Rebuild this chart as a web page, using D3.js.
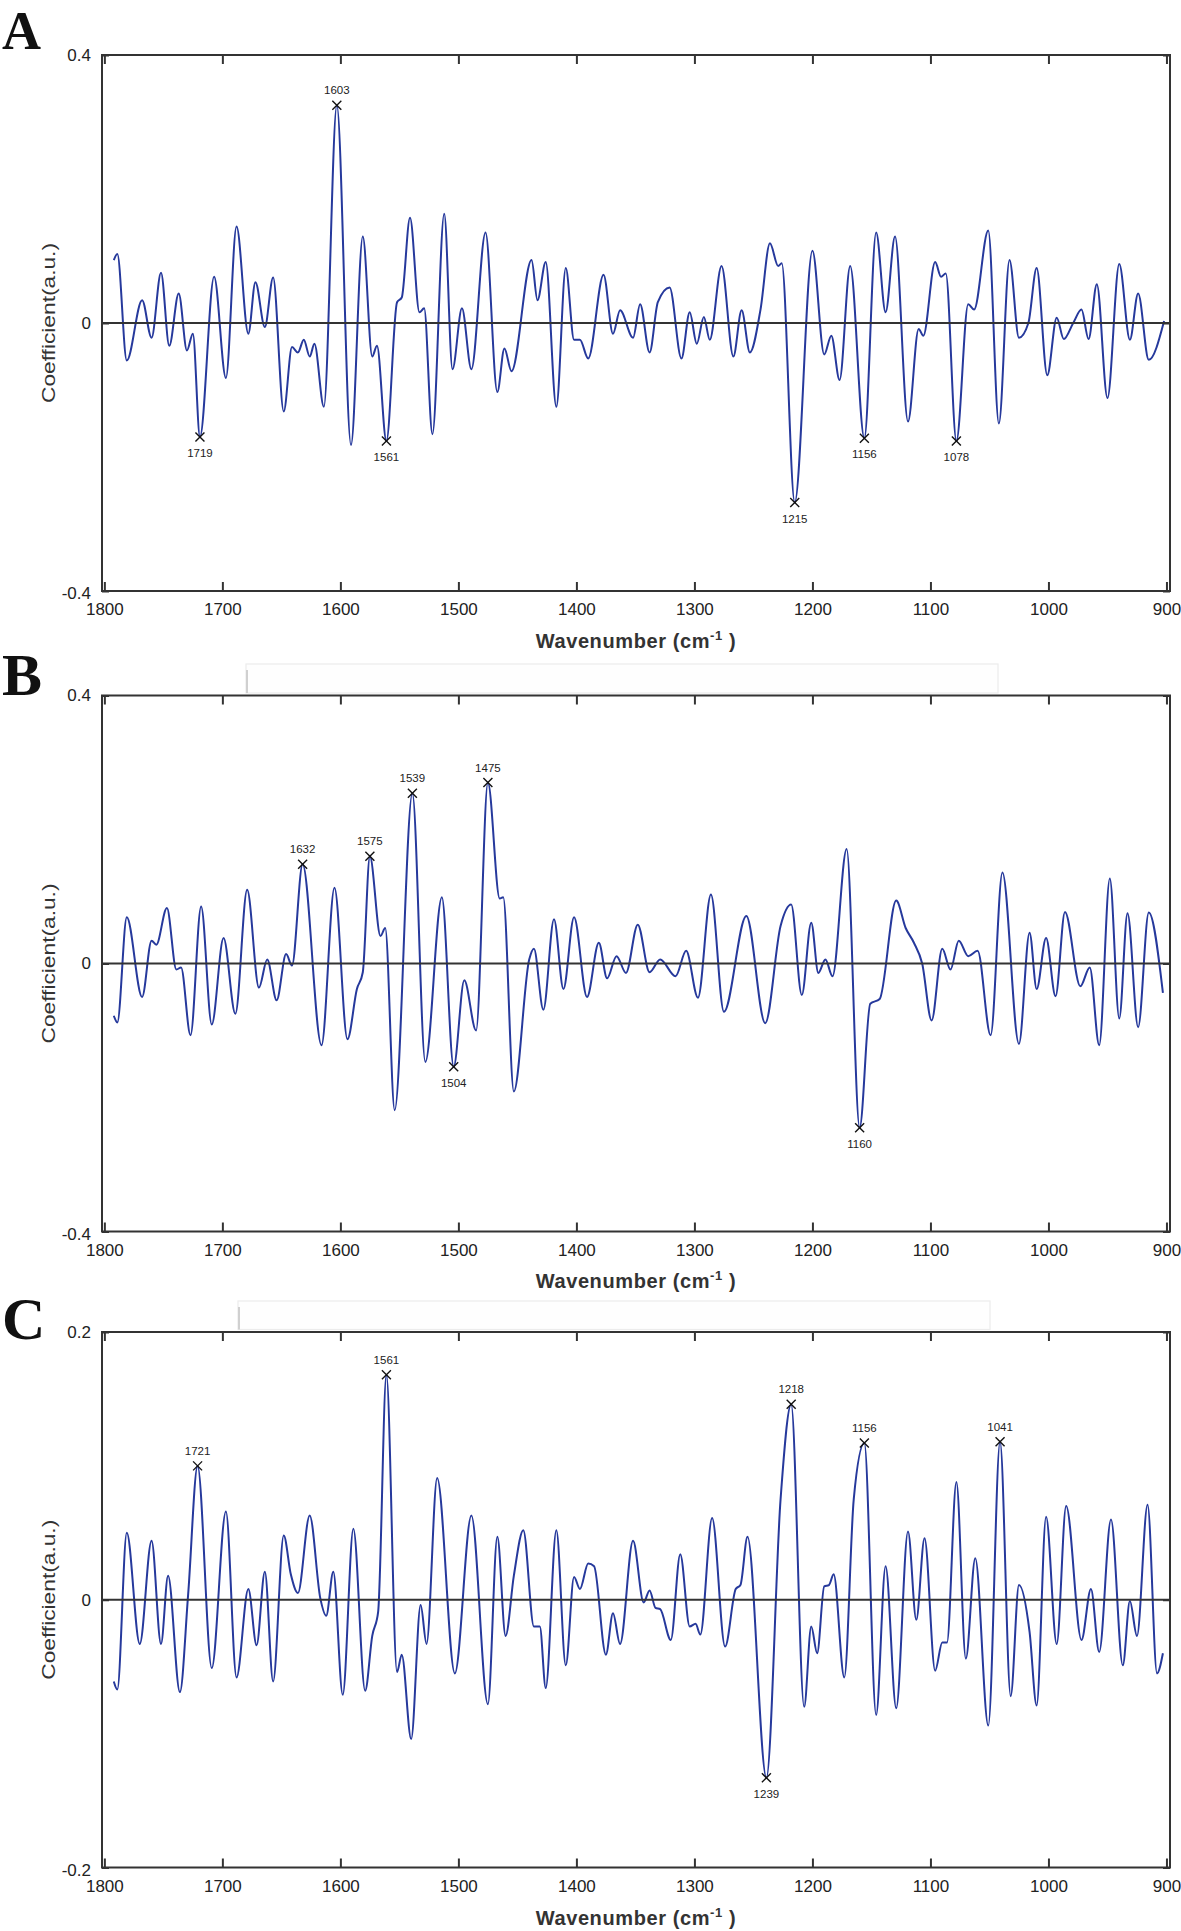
<!DOCTYPE html>
<html><head><meta charset="utf-8">
<script src="https://cdn.jsdelivr.net/npm/d3@7"></script>
<style>body{margin:0;background:#fff}svg{display:block}</style>
</head><body>
<svg id="chart" width="1181" height="1931"></svg>
<script>
// ---------- data ----------
const xTicks = [1800,1700,1600,1500,1400,1300,1200,1100,1000,900];
const yTicksAB = [-0.4, 0, 0.4];
const yTicksC = [-0.2, 0, 0.2];
const panelLetters = ["A","B","C"];
const xAxisTitle = "Wavenumber (cm";
const yAxisTitle = "Coefficient(a.u.)";

const wavenumbersA = [1792,1789,1781,1768,1760,1752,1745,1737,1730,1725,1719,1707,1697,1688,1678,1672,1664,1657,1648,1641,1636,1631,1626,1622,1614,1603,1591,1581,1573,1569,1561,1552,1548,1541,1533,1529,1522,1512,1505,1497,1489,1477,1467,1461,1455,1438,1433,1426,1417,1409,1402,1397,1390,1377,1369,1363,1352,1346,1338,1331,1321,1311,1304,1298,1292,1287,1277,1267,1260,1253,1244,1236,1229,1226,1215,1200,1190,1184,1177,1168,1156,1146,1138,1130,1119,1110,1106,1096,1091,1087,1078,1068,1063,1051,1042,1033,1025,1017,1010,1001,993,987,979,972,966,959,950,940,931,924,915,902];
const coefficientsA = [0.094,0.103,-0.056,0.034,-0.022,0.075,-0.034,0.044,-0.041,-0.016,-0.170,0.069,-0.082,0.144,-0.016,0.061,-0.006,0.068,-0.132,-0.036,-0.044,-0.025,-0.050,-0.031,-0.125,0.325,-0.182,0.129,-0.050,-0.034,-0.176,0.031,0.038,0.157,0.016,0.022,-0.166,0.163,-0.069,0.022,-0.069,0.135,-0.103,-0.038,-0.072,0.094,0.034,0.091,-0.125,0.082,-0.025,-0.025,-0.053,0.072,-0.016,0.019,-0.022,0.028,-0.044,0.031,0.053,-0.053,0.016,-0.031,0.009,-0.025,0.085,-0.050,0.019,-0.044,0.020,0.119,0.085,0.089,-0.268,0.108,-0.047,-0.019,-0.085,0.085,-0.172,0.135,0.016,0.129,-0.147,-0.009,-0.019,0.091,0.069,0.074,-0.176,0.028,0.020,0.138,-0.150,0.094,-0.022,0.000,0.082,-0.078,0.008,-0.024,0.000,0.020,-0.024,0.058,-0.112,0.088,-0.025,0.044,-0.055,0.003];
const peaksA = [1719,1603,1561,1215,1156,1078];

const wavenumbersB = [1792,1789,1781,1768,1760,1756,1747,1739,1735,1727,1718,1709,1699,1689,1679,1669,1662,1654,1646,1641,1632,1616,1605,1594,1586,1581,1575,1566,1562,1554,1539,1528,1514,1504,1495,1485,1475,1465,1462,1453,1440,1436,1428,1419,1411,1402,1391,1381,1374,1366,1358,1348,1338,1329,1316,1307,1297,1286,1275,1256,1240,1227,1218,1209,1201,1195,1189,1183,1171,1160,1151,1143,1129,1121,1114,1107,1099,1090,1083,1076,1068,1060,1049,1039,1025,1016,1010,1002,994,986,973,965,957,948,940,933,924,915,903];
const coefficientsB = [-0.078,-0.088,0.069,-0.050,0.034,0.028,0.083,-0.009,-0.006,-0.107,0.085,-0.091,0.038,-0.075,0.110,-0.036,0.006,-0.055,0.014,-0.003,0.148,-0.122,0.113,-0.113,-0.038,-0.013,0.160,0.041,0.053,-0.219,0.254,-0.147,0.099,-0.154,-0.025,-0.100,0.270,0.097,0.099,-0.191,0.006,0.022,-0.069,0.066,-0.038,0.069,-0.050,0.031,-0.022,0.011,-0.014,0.058,-0.013,0.006,-0.019,0.019,-0.051,0.103,-0.072,0.071,-0.089,0.056,0.088,-0.047,0.061,-0.014,0.006,-0.019,0.171,-0.245,-0.060,-0.053,0.094,0.053,0.031,0.000,-0.085,0.022,-0.009,0.034,0.011,0.019,-0.107,0.136,-0.120,0.046,-0.038,0.038,-0.049,0.077,-0.034,-0.006,-0.122,0.127,-0.082,0.075,-0.095,0.076,-0.044];
const peaksB = [1632,1575,1539,1504,1475,1160];

const wavenumbersC = [1792,1789,1781,1770,1760,1752,1746,1736,1729,1721,1709,1697,1688,1678,1671,1664,1657,1648,1642,1636,1626,1617,1612,1606,1598,1589,1579,1573,1568,1561,1552,1548,1540,1532,1527,1518,1503,1489,1475,1467,1460,1453,1445,1436,1431,1426,1417,1409,1402,1397,1390,1385,1375,1369,1363,1352,1343,1338,1333,1329,1320,1312,1304,1299,1295,1285,1274,1265,1261,1255,1239,1227,1218,1207,1201,1196,1190,1186,1182,1173,1165,1156,1146,1138,1129,1119,1112,1105,1096,1090,1086,1078,1070,1062,1051,1041,1032,1025,1016,1010,1002,993,985,972,964,957,947,937,931,925,916,908,903];
const coefficientsC = [-0.061,-0.067,0.050,-0.033,0.044,-0.033,0.018,-0.069,0.004,0.100,-0.051,0.066,-0.058,0.008,-0.034,0.021,-0.061,0.048,0.019,0.005,0.063,0.001,-0.012,0.021,-0.071,0.053,-0.068,-0.027,-0.009,0.168,-0.054,-0.041,-0.104,-0.004,-0.033,0.091,-0.055,0.063,-0.078,0.047,-0.027,0.018,0.052,-0.020,-0.020,-0.066,0.052,-0.049,0.017,0.008,0.027,0.025,-0.041,-0.010,-0.033,0.044,-0.002,0.007,-0.006,-0.007,-0.030,0.034,-0.020,-0.018,-0.026,0.061,-0.035,0.008,0.011,0.047,-0.133,0.075,0.146,-0.080,-0.020,-0.040,0.010,0.011,0.019,-0.058,0.075,0.117,-0.086,0.025,-0.081,0.051,-0.015,0.046,-0.053,-0.032,-0.032,0.088,-0.044,0.031,-0.094,0.118,-0.072,0.011,-0.024,-0.079,0.062,-0.033,0.070,-0.030,0.008,-0.039,0.060,-0.049,-0.001,-0.027,0.071,-0.055,-0.040];
const peaksC = [1721,1561,1239,1218,1156,1041];

// ---------- layout ----------
const L = 102, R = 1170;
const panels = [
  {letter: panelLetters[0], w: wavenumbersA, c: coefficientsA, peaks: peaksA, yTicks: yTicksAB, top: 55,    bottom: 591,    letterY: 48.5, letterSize: 54, xlabY: 648,  bar: null},
  {letter: panelLetters[1], w: wavenumbersB, c: coefficientsB, peaks: peaksB, yTicks: yTicksAB, top: 695.5, bottom: 1231.5, letterY: 695,  letterSize: 60, xlabY: 1288, bar: [246, 998, 664, 693]},
  {letter: panelLetters[2], w: wavenumbersC, c: coefficientsC, peaks: peaksC, yTicks: yTicksC,  top: 1332,  bottom: 1867.5, letterY: 1339, letterSize: 60, xlabY: 1925, bar: [238, 990, 1301, 1329.5]}
];

const svg = d3.select("#chart");
const defs = svg.append("defs");
defs.append("filter").attr("id","blur").append("feGaussianBlur").attr("stdDeviation",0.5);

const x = d3.scaleLinear().domain([1802, 897]).range([L, R]);
const fontSans = "'Liberation Sans', Arial, Helvetica, sans-serif";
const lineColor = "#26399c";
const axisColor = "#333";

panels.forEach(p => {
  const ymax = d3.max(p.yTicks);
  const y = d3.scaleLinear().domain([-ymax, ymax]).range([p.bottom, p.top]);
  const g = svg.append("g");

  // screenshot artifact bar above panel
  if (p.bar) {
    const [bx0, bx1, by0, by1] = p.bar;
    g.append("rect").attr("x", bx0).attr("y", by0).attr("width", bx1 - bx0).attr("height", by1 - by0)
      .attr("fill", "#fefefe").attr("stroke", "#ececec").attr("stroke-width", 1.2);
    g.append("line").attr("x1", bx0 + 1).attr("x2", bx0 + 1).attr("y1", by0 + 6).attr("y2", by1)
      .attr("stroke", "#d0d0d0").attr("stroke-width", 2);
    g.append("line").attr("x1", bx0).attr("x2", bx1 - 4).attr("y1", by1).attr("y2", by1)
      .attr("stroke", "#5e5e5e").attr("stroke-width", 3.2).attr("filter", "url(#blur)");
  }

  // data curve
  const pts = p.w.map((w, i) => [w, p.c[i]]);
  const line = d3.line().x(d => x(d[0])).y(d => y(d[1])).curve(d3.curveMonotoneX);
  g.append("path").datum(pts).attr("d", line).attr("fill", "none")
    .attr("stroke", lineColor).attr("stroke-width", 2).attr("stroke-linejoin", "round");

  // zero line
  g.append("line").attr("x1", L).attr("x2", R).attr("y1", y(0)).attr("y2", y(0))
    .attr("stroke", axisColor).attr("stroke-width", 2);

  // axes
  const fmtX = d3.format("d");
  const fmtY = d => String(d);
  const ax = g.append("g").attr("transform", `translate(0,${p.bottom})`)
    .call(d3.axisBottom(x).tickValues(xTicks).tickSize(-9).tickPadding(12).tickFormat(fmtX));
  const axT = g.append("g").attr("transform", `translate(0,${p.top})`)
    .call(d3.axisTop(x).tickValues(xTicks).tickSize(-9).tickFormat(""));
  const ayL = g.append("g").attr("transform", `translate(${L},0)`)
    .call(d3.axisLeft(y).tickValues(p.yTicks).tickSize(-7).tickPadding(11).tickFormat(fmtY));
  const ayR = g.append("g").attr("transform", `translate(${R},0)`)
    .call(d3.axisRight(y).tickValues(p.yTicks).tickSize(-7).tickFormat(""));
  [ax, axT, ayL, ayR].forEach(a => {
    a.select(".domain").remove();
    a.selectAll(".tick line").attr("stroke", axisColor).attr("stroke-width", 2);
    a.selectAll(".tick text").attr("fill", "#222").attr("font-family", fontSans)
      .attr("font-size", 17);
  });
  ayL.selectAll(".tick text").filter(d => d < 0).attr("dy", "0.45em");

  // frame
  g.append("rect").attr("x", L).attr("y", p.top).attr("width", R - L).attr("height", p.bottom - p.top)
    .attr("fill", "none").attr("stroke", axisColor).attr("stroke-width", 2);

  // peak markers and labels
  p.peaks.forEach(pk => {
    const i = p.w.indexOf(pk);
    const v = p.c[i];
    const px = x(pk), py = y(v);
    const mk = g.append("g").attr("stroke", "#111").attr("stroke-width", 1.4);
    mk.append("line").attr("x1", px - 4.5).attr("x2", px + 4.5).attr("y1", py - 4.5).attr("y2", py + 4.5);
    mk.append("line").attr("x1", px - 4.5).attr("x2", px + 4.5).attr("y1", py + 4.5).attr("y2", py - 4.5);
    const ty = v > 0 ? py - 15 : py + 16;
    g.append("text").attr("x", px).attr("y", ty).attr("dy", "0.35em").attr("text-anchor", "middle")
      .attr("font-family", fontSans).attr("font-size", 11.5).attr("fill", "#222").text(pk);
  });

  // panel letter
  g.append("text").attr("x", 2).attr("y", p.letterY)
    .attr("font-family", "'Liberation Serif', 'Times New Roman', serif").attr("font-weight", "bold")
    .attr("font-size", p.letterSize).attr("fill", "#111").text(p.letter);

  // x axis title
  const xt = g.append("text").attr("x", 636).attr("y", p.xlabY).attr("text-anchor", "middle")
    .attr("font-family", fontSans).attr("font-size", 20).attr("font-weight", "bold")
    .attr("letter-spacing", 0.6).attr("fill", "#333");
  xt.append("tspan").text(xAxisTitle);
  xt.append("tspan").attr("dy", -8).attr("font-size", 13).text("-1");
  xt.append("tspan").attr("dy", 8).text(" )");

  // y axis title
  const cy = (p.top + p.bottom) / 2;
  g.append("text").attr("transform", `translate(48,${cy}) rotate(-90)`)
    .attr("text-anchor", "middle").attr("dominant-baseline", "central")
    .attr("font-family", fontSans).attr("font-size", 19).attr("fill", "#333")
    .attr("textLength", 160).attr("lengthAdjust", "spacingAndGlyphs").text(yAxisTitle);
});
</script>
</body></html>
